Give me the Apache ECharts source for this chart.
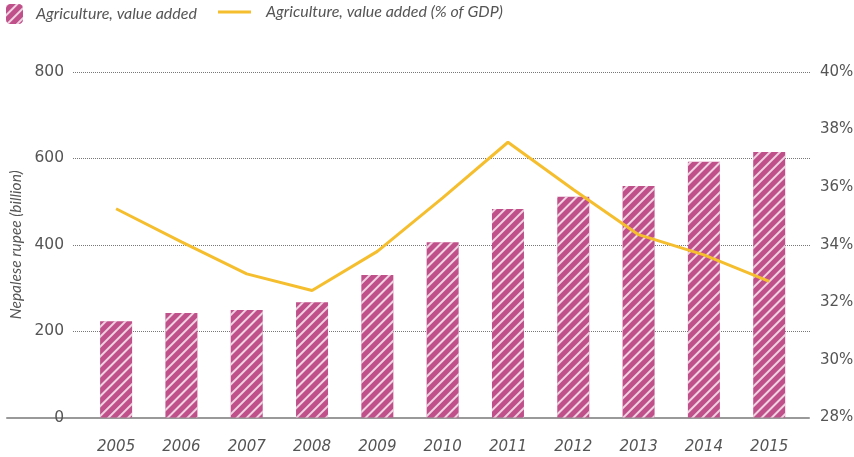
<!DOCTYPE html>
<html>
<head>
<meta charset="utf-8">
<script src="https://cdn.jsdelivr.net/npm/echarts@6/dist/echarts.min.js"></script>
<style>
  html, body { margin: 0; padding: 0; background: #fff; }
  #chart { width: 854px; height: 457px; }
</style>
</head>
<body>
<div id="chart"></div>
<script>
// data
var years = [2005, 2006, 2007, 2008, 2009, 2010, 2011, 2012, 2013, 2014, 2015];
var valueAdded = [223, 242, 249, 267, 330, 406, 483, 511, 536, 592, 615];   // billion NPR
var shareOfGdp = [35.25, 34.1, 32.99, 32.41, 33.77, 35.63, 37.56, 35.92, 34.35, 33.65, 32.73]; // %
var leftTicks = [0, 800, 200];   // min, max, interval
var rightTicks = [28, 40, 2];

var barName = 'Agriculture, value added';
var lineName = 'Agriculture, value added (% of GDP)';

var FONT = 'Lato';
var NUMFONT = 'DejaVu Sans';
var GREY = '#555';

var myChart = echarts.init(document.getElementById('chart'));

var option = {
    animation: false,
    textStyle: { fontFamily: FONT },
    legend: [
        {
            left: 6, top: 4, padding: 0,
            data: [barName],
            itemWidth: 17, itemHeight: 20,
            textStyle: { fontSize: 16, fontStyle: 'italic', color: GREY, padding: [4, 0, 0, 8] }
        },
        {
            left: 218, top: 4, padding: 0,
            data: [{ name: lineName, icon: 'rect' }],
            itemWidth: 33, itemHeight: 3,
            textStyle: { fontSize: 16, fontStyle: 'italic', color: GREY, padding: [4, 0, 0, 10] }
        }
    ],
    grid: [
        { left: 73, right: 43, top: 72, bottom: 39.5, outerBoundsMode: 'none' },
        // only used for the long base line under the bars
        { left: 7, right: 45, top: 72, bottom: 39.5, outerBoundsMode: 'none' }
    ],
    xAxis: [
        {
            type: 'value', gridIndex: 0,
            min: 2004.34, max: 2015.64,
            axisLine: { show: false },
            axisTick: { show: false },
            splitLine: { show: false },
            axisLabel: {
                customValues: years,
                margin: 22,
                fontFamily: NUMFONT, fontSize: 15, fontStyle: 'italic', color: GREY,
                formatter: function (v) { return String(Math.round(v)); }
            }
        },
        {
            type: 'value', gridIndex: 1,
            min: 0, max: 1,
            offset: 15,
            axisLine: { show: true, lineStyle: { color: '#999', width: 2 } },
            axisTick: { show: false },
            axisLabel: { show: false },
            splitLine: { show: false }
        }
    ],
    yAxis: [
        {
            type: 'value', gridIndex: 0,
            min: leftTicks[0], max: leftTicks[1], interval: leftTicks[2],
            name: 'Nepalese rupee (billion)',
            nameLocation: 'middle', nameGap: 49,
            nameTextStyle: { fontSize: 15.5, fontStyle: 'italic', color: GREY },
            axisLine: { show: false },
            axisTick: { show: false },
            axisLabel: { fontFamily: NUMFONT, fontSize: 15.5, color: GREY, margin: 9 },
            splitLine: {
                show: true, showMinLine: false,
                lineStyle: { type: 'dotted', color: '#777', width: 1 }
            }
        },
        {
            type: 'value', gridIndex: 0, position: 'right',
            min: rightTicks[0], max: rightTicks[1], interval: rightTicks[2],
            axisLine: { show: false },
            axisTick: { show: false },
            axisLabel: { fontFamily: NUMFONT, fontSize: 15, color: GREY, margin: 9, formatter: '{value}%' },
            splitLine: { show: false }
        },
        {
            type: 'value', gridIndex: 1, show: false
        }
    ],
    series: [
        {
            name: barName,
            type: 'bar',
            xAxisIndex: 0, yAxisIndex: 0,
            barWidth: 32,
            itemStyle: {
                color: '#C0508A',
                decal: {
                    symbol: 'rect',
                    dashArrayX: [1, 0],
                    dashArrayY: [1.4, 4.3],
                    rotation: -Math.PI / 4,
                    color: 'rgba(255,255,255,0.75)'
                }
            },
            data: years.map(function (y, i) { return [y, valueAdded[i]]; })
        },
        {
            name: lineName,
            type: 'line',
            xAxisIndex: 0, yAxisIndex: 1,
            symbol: 'none',
            lineStyle: { color: '#F5BE2E', width: 3 },
            itemStyle: { color: '#F5BE2E' },
            data: years.map(function (y, i) { return [y, shareOfGdp[i]]; })
        }
    ]
};

myChart.setOption(option);
</script>
</body>
</html>
